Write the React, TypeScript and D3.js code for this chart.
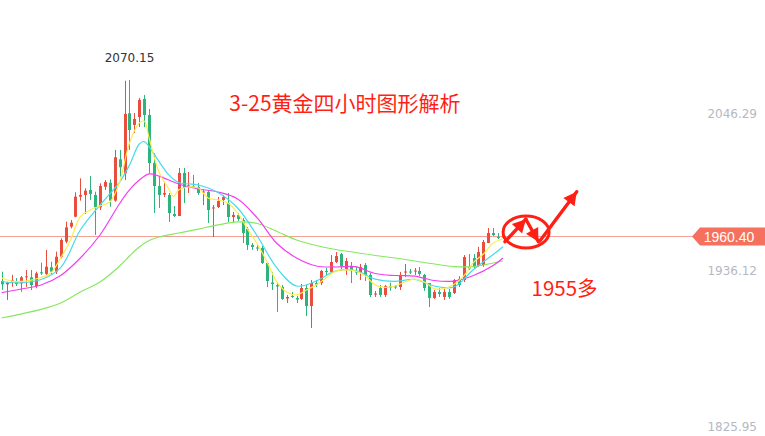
import React from "react";
import * as d3 from "d3";

// 4-hour gold candles: open / high / low / close
const opens = [
  1928.7, 1926.4, 1928.0, 1928.0, 1927.1, 1931.3, 1931.3, 1925.2, 1934.9, 1933.7,
  1938.4, 1935.3, 1945.8, 1956.4, 1967.0, 1974.0, 1988.1, 1989.3, 1992.8, 1989.3,
  1980.6, 1995.1, 1997.9, 1985.3, 2014.4, 2004.5, 2046.8, 2038.6, 2044.2, 2056.9,
  2045.6, 2011.8, 1995.6, 1989.6, 1989.3, 1975.9, 1974.5, 2004.8, 1995.3, 1995.6,
  1994.9, 1991.0, 1991.4, 1979.8, 1980.8, 1985.8, 1983.6, 1973.8, 1975.2, 1971.7,
  1965.3, 1954.1, 1952.3, 1952.0, 1941.4, 1927.7, 1925.9, 1924.5, 1916.4, 1918.2,
  1916.8, 1916.1, 1923.8, 1911.1, 1927.3, 1927.3, 1935.8, 1935.1, 1942.1, 1947.7,
  1936.5, 1938.6, 1935.4, 1934.4, 1940.0, 1933.0, 1919.2, 1923.8, 1918.9, 1924.9,
  1924.9, 1924.5, 1934.7, 1935.4, 1935.4, 1935.8, 1933.0, 1927.3, 1916.8, 1921.0,
  1917.5, 1921.0, 1920.3, 1930.1, 1929.4, 1938.6, 1944.9, 1939.3, 1940.0, 1955.5,
  1962.5, 1959.7, 1959.2,
];
const highs = [
  1935.3, 1928.2, 1933.0, 1930.8, 1932.2, 1936.5, 1936.5, 1935.3, 1941.6, 1950.6,
  1942.3, 1949.4, 1958.8, 1970.5, 1971.7, 1991.2, 2001.0, 1994.0, 2002.6, 1991.6,
  1997.5, 1999.8, 2000.3, 2021.0, 2021.0, 2069.7, 2070.15, 2047.0, 2057.6, 2059.7,
  2049.8, 2018.8, 2001.9, 1998.4, 1990.7, 1981.5, 2008.3, 2008.3, 2005.5, 2003.4,
  1997.7, 1992.8, 1992.8, 1982.2, 1987.9, 1989.3, 1990.7, 1977.3, 1976.6, 1973.1,
  1966.7, 1955.5, 1954.1, 1953.4, 1942.1, 1935.1, 1928.0, 1925.9, 1918.9, 1921.0,
  1918.2, 1926.6, 1925.9, 1929.4, 1929.4, 1936.5, 1937.9, 1947.0, 1949.1, 1948.4,
  1944.9, 1942.1, 1938.6, 1940.7, 1941.4, 1934.4, 1921.7, 1925.9, 1925.9, 1927.5,
  1925.9, 1935.1, 1940.7, 1937.2, 1937.9, 1938.6, 1933.7, 1927.3, 1922.4, 1923.8,
  1924.5, 1923.1, 1930.1, 1932.2, 1947.0, 1947.7, 1947.7, 1952.7, 1957.6, 1966.0,
  1966.0, 1962.5, 1963.0,
];
const lows = [
  1922.4, 1915.4, 1924.7, 1925.2, 1921.2, 1924.7, 1922.4, 1923.6, 1933.0, 1933.0,
  1933.7, 1933.7, 1944.7, 1955.3, 1965.8, 1973.6, 1985.3, 1975.9, 1985.8, 1961.1,
  1978.7, 1992.8, 1981.0, 1984.6, 2002.2, 1999.8, 2021.0, 2032.9, 2037.1, 2037.1,
  2004.8, 1976.6, 1980.1, 1987.9, 1970.3, 1973.8, 1974.5, 1983.6, 1990.7, 1994.5,
  1989.3, 1982.2, 1969.6, 1959.7, 1980.1, 1982.2, 1970.3, 1970.3, 1971.0, 1955.5,
  1950.6, 1950.6, 1949.9, 1940.7, 1924.5, 1922.4, 1906.9, 1915.4, 1913.2, 1916.8,
  1913.2, 1915.4, 1904.1, 1895.6, 1924.5, 1925.9, 1933.0, 1934.4, 1941.4, 1935.8,
  1933.0, 1927.3, 1933.0, 1929.4, 1928.7, 1917.5, 1917.5, 1917.5, 1917.5, 1921.9,
  1923.1, 1922.4, 1931.5, 1933.7, 1933.0, 1932.2, 1921.7, 1910.4, 1916.1, 1917.5,
  1915.4, 1916.1, 1919.6, 1924.5, 1928.0, 1936.5, 1937.9, 1938.6, 1938.6, 1955.5,
  1960.4, 1958.3, 1958.5,
];
const closes = [
  1926.4, 1927.5, 1929.1, 1926.6, 1931.3, 1932.0, 1925.9, 1934.1, 1934.1, 1938.8,
  1935.3, 1945.8, 1957.6, 1966.5, 1969.8, 1988.1, 1989.3, 1992.3, 1990.0, 1980.6,
  1995.6, 1998.4, 1985.3, 2015.8, 2008.8, 2046.3, 2035.0, 2042.8, 2056.2, 2045.6,
  2011.8, 1995.6, 1989.3, 1990.7, 1976.6, 1974.5, 2004.8, 1994.2, 1996.0, 1994.9,
  1990.7, 1991.7, 1978.7, 1980.5, 1985.0, 1987.9, 1973.8, 1975.2, 1972.4, 1962.5,
  1954.1, 1952.7, 1951.6, 1941.4, 1928.7, 1926.6, 1924.9, 1916.1, 1917.5, 1917.5,
  1915.7, 1923.8, 1911.1, 1927.3, 1926.3, 1935.8, 1935.1, 1942.1, 1946.3, 1939.3,
  1942.8, 1935.8, 1934.7, 1938.6, 1933.0, 1918.9, 1919.9, 1918.9, 1925.2, 1924.2,
  1924.2, 1933.0, 1935.4, 1934.7, 1936.1, 1933.7, 1923.8, 1916.8, 1921.0, 1919.6,
  1921.0, 1917.5, 1929.4, 1925.9, 1945.6, 1937.5, 1938.6, 1949.1, 1956.2, 1962.5,
  1961.1, 1959.0, 1960.4,
];

// Moving averages, sampled at candle indices
const ma5Idx = [0, 2, 4, 6, 8, 10, 12, 14, 16, 18, 20, 22, 24, 26, 28, 29, 30, 32, 34, 35, 36, 38, 40, 42, 44, 46, 48, 50, 52, 54, 56, 58, 60, 62, 64, 66, 68, 70, 72, 74, 76, 78, 80, 82, 84, 86, 88, 90, 92, 94, 96, 98, 100, 102];
const ma5 = [1930.8, 1928.7, 1928.4, 1929.4, 1931.2, 1934.4, 1944.9, 1957.6, 1974.1, 1978.7, 1981.5, 1984.3, 1998.4, 2025.9, 2040.0, 2041.4, 2029.4, 2005.5, 1993.5, 1988.2, 1992.8, 1994.9, 1994.2, 1987.2, 1985.8, 1983.6, 1976.6, 1965.3, 1954.8, 1942.1, 1928.0, 1921.0, 1918.9, 1922.4, 1925.9, 1930.8, 1935.8, 1936.5, 1935.8, 1932.2, 1925.9, 1924.2, 1925.2, 1928.0, 1930.1, 1928.0, 1923.4, 1923.4, 1926.3, 1932.2, 1941.8, 1947.7, 1955.5, 1958.3];
const ma10Idx = [0, 4, 8, 12, 16, 20, 24, 26, 28, 29, 31, 34, 36, 40, 44, 48, 52, 56, 60, 64, 68, 72, 76, 80, 84, 88, 92, 96, 100, 102];
const ma10 = [1928.2, 1927.5, 1929.8, 1938.2, 1964.6, 1982.2, 1998.4, 2010.4, 2025.2, 2026.9, 2018.1, 2003.4, 1998.1, 1996.3, 1991.0, 1980.1, 1960.4, 1937.9, 1925.2, 1928.7, 1935.8, 1936.1, 1930.1, 1928.4, 1929.9, 1925.2, 1924.5, 1936.8, 1947.4, 1952.9];
const ma20Idx = [0, 4, 8, 12, 16, 20, 24, 26, 28, 30, 32, 36, 40, 44, 48, 52, 56, 60, 64, 68, 72, 76, 80, 84, 88, 92, 96, 100, 102];
const ma20 = [1920.6, 1923.1, 1925.9, 1932.6, 1944.9, 1961.1, 1983.3, 1992.8, 1999.8, 2004.1, 2002.6, 1997.0, 1993.5, 1991.4, 1986.5, 1973.1, 1955.1, 1944.9, 1939.3, 1938.6, 1938.8, 1934.0, 1932.6, 1932.2, 1929.1, 1928.7, 1932.6, 1939.6, 1944.9];
const ma60Idx = [0, 8, 12, 16, 20, 24, 26, 28, 30, 32, 36, 40, 44, 48, 52, 56, 60, 64, 68, 72, 76, 80, 84, 88, 92, 96, 100, 102];
const ma60 = [1902.7, 1908.7, 1913.2, 1921.0, 1928.0, 1939.3, 1946.3, 1952.7, 1957.2, 1959.7, 1962.5, 1965.3, 1968.2, 1970.3, 1969.2, 1963.6, 1957.6, 1953.7, 1950.9, 1948.8, 1946.7, 1944.9, 1942.8, 1940.7, 1938.9, 1938.9, 1941.4, 1942.8];

const axisTicks = [2046.29, 1936.12, 1825.95];
const lastPrice = 1960.4;
const titleText = "3-25黄金四小时图形解析";
const noteText = "1955多";

// Hand-drawn forecast: [candle index, price]
const forecastCircle: [number, number] = [106.7, 1963.2];
const forecastLegs: [number, number][][] = [
  [[102.4, 1956.4], [106.65, 1972.2]],
  [[106.65, 1972.2], [109.2, 1956.4]],
  [[109.5, 1956.9], [117, 1991.6]],
];

const W = 765;
const H = 436;
const UP = "#ea4c3d";
const DOWN = "#2db47b";
const MARK = "#ff1f14";

function arrowHead(x1: number, y1: number, x2: number, y2: number, len: number, half: number) {
  const dx = x2 - x1;
  const dy = y2 - y1;
  const d = Math.hypot(dx, dy);
  const ux = dx / d;
  const uy = dy / d;
  const bx = x2 - ux * len;
  const by = y2 - uy * len;
  return `${x2},${y2} ${bx - uy * half},${by + ux * half} ${bx + uy * half},${by - ux * half}`;
}

export default function App() {
  const x = d3.scaleLinear().domain([0, 102]).range([1.7, 503]);
  const y = d3.scaleLinear().domain([1825.95, 2046.29]).range([427, 114]);

  const maLine = (idx: number[], vals: number[]) =>
    d3
      .line<number>()
      .x((_, i) => x(idx[i]))
      .y((v) => y(v))
      .curve(d3.curveCatmullRom.alpha(0.5))(vals) || "";

  const priceY = Math.round(y(lastPrice)) + 0.5;
  const peakIdx = d3.maxIndex(highs);

  const [cx, cy] = [x(forecastCircle[0]), y(forecastCircle[1])];

  return (
    <svg
      width={W}
      height={H}
      style={{ position: "absolute", left: 0, top: 0, background: "#fff" }}
    >
      <rect width={W} height={H} fill="#fff" />
      {/* last price line */}
      <line x1={0} x2={692} y1={priceY} y2={priceY} stroke="#f4a096" strokeWidth={1} />

      {/* candles */}
      {opens.map((o, i) => {
        const c = closes[i];
        const up = c >= o;
        const col = up ? UP : DOWN;
        const cxp = Math.round(x(i)) + 0.5;
        const top = y(Math.max(o, c));
        const bot = y(Math.min(o, c));
        return (
          <g key={i}>
            <line x1={cxp} x2={cxp} y1={y(highs[i])} y2={y(lows[i])} stroke={col} strokeWidth={1} />
            <rect x={cxp - 1.5} y={top} width={3} height={Math.max(1, bot - top)} fill={col} />
          </g>
        );
      })}

      {/* moving averages */}
      <path d={maLine(ma60Idx, ma60)} fill="none" stroke="#86e860" strokeWidth={1.2} />
      <path d={maLine(ma20Idx, ma20)} fill="none" stroke="#f23ff0" strokeWidth={1.2} />
      <path d={maLine(ma10Idx, ma10)} fill="none" stroke="#45dbeb" strokeWidth={1.2} />
      <path d={maLine(ma5Idx, ma5)} fill="none" stroke="#ffec4a" strokeWidth={1.2} />

      {/* peak label */}
      <text
        x={x(peakIdx)}
        y={y(highs[peakIdx]) - 18}
        textAnchor="middle"
        fontFamily="DejaVu Sans"
        fontSize={12}
        fill="#333"
      >
        {highs[peakIdx].toFixed(2)}
      </text>

      {/* right axis labels */}
      {axisTicks.map((t) => (
        <text
          key={t}
          x={757}
          y={y(t)}
          dy="0.36em"
          textAnchor="end"
          fontFamily="DejaVu Sans"
          fontSize={12}
          fill="#b6b8c4"
        >
          {t.toFixed(2)}
        </text>
      ))}

      {/* last price tag */}
      <polygon
        points={`692,${priceY} 700,${priceY - 9} 765,${priceY - 9} 765,${priceY + 9} 700,${priceY + 9}`}
        fill="#f6715d"
      />
      <text
        x={729}
        y={priceY}
        dy="0.36em"
        textAnchor="middle"
        fontFamily="Liberation Sans"
        fontSize={14}
        fill="#fff"
      >
        {lastPrice.toFixed(2)}
      </text>

      {/* title */}
      <text x={229.3} y={111} fontFamily="Noto Sans CJK SC" fontSize={21} fill={MARK}>
        {titleText}
      </text>

      {/* forecast sketch */}
      <ellipse cx={cx} cy={cy} rx={23} ry={16} fill="none" stroke={MARK} strokeWidth={3} />
      {forecastLegs.map((leg, i) => {
        const x1 = x(leg[0][0]);
        const y1 = y(leg[0][1]);
        const x2 = x(leg[1][0]);
        const y2 = y(leg[1][1]);
        return (
          <g key={i}>
            <line x1={x1} y1={y1} x2={x2} y2={y2} stroke={MARK} strokeWidth={3.4} strokeLinecap="round" />
            <polygon points={arrowHead(x1, y1, x2, y2, 13, 7)} fill={MARK} />
          </g>
        );
      })}
      <text x={531.5} y={295.5} fontFamily="Noto Sans CJK SC" fontSize={20.5} fill={MARK}>
        {noteText}
      </text>
    </svg>
  );
}
